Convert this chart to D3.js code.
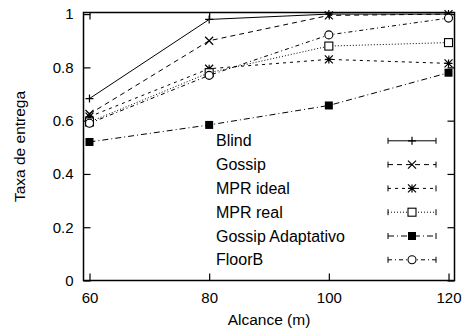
<!DOCTYPE html>
<html>
<head>
<meta charset="utf-8">
<script src="https://cdn.jsdelivr.net/npm/d3@7/dist/d3.min.js"></script>
<style>
  body { margin: 0; background: #fff; }
  svg { display: block; }
  text { font-family: "Liberation Sans", Arial, sans-serif; fill: #000; }
</style>
</head>
<body>
<svg id="chart" width="463" height="331"></svg>
<script>
// Delivery rate vs. range for each broadcast protocol
const ranges = [60, 80, 100, 120];
const seriesNames = ["Blind", "Gossip", "MPR ideal", "MPR real", "Gossip Adaptativo", "FloorB"];
const blind = [0.683, 0.98, 1.0, 1.0];
const gossip = [0.625, 0.90, 0.995, 1.0];
const mprIdeal = [0.615, 0.795, 0.83, 0.815];
const mprReal = [0.595, 0.78, 0.88, 0.893];
const gossipAdapt = [0.52, 0.584, 0.657, 0.78];
const floorB = [0.59, 0.77, 0.922, 0.985];
const yTicks = [0, 0.2, 0.4, 0.6, 0.8, 1];
const xTicks = [60, 80, 100, 120];

const seriesValues = [blind, gossip, mprIdeal, mprReal, gossipAdapt, floorB];
const styles = [
  { dash: null, mark: "plus" },
  { dash: "5,4", mark: "cross" },
  { dash: "3,4", mark: "star" },
  { dash: "1,2", mark: "box" },
  { dash: "6,3,1,3", mark: "fbox" },
  { dash: "4,3,1,3", mark: "circle" }
];

const svg = d3.select("#chart");
const pLeft = 83.5, pRight = 454.5, pTop = 12.5, pBottom = 280.5;

const x = d3.scaleLinear().domain([59, 121]).range([pLeft, pRight]);
const y = d3.scaleLinear().domain([0, 1.006]).range([pBottom, pTop]);

function drawMark(g, kind, cx, cy) {
  const s = 4;
  if (kind === "plus") {
    g.append("path").attr("d", `M${cx - s},${cy}H${cx + s}M${cx},${cy - s}V${cy + s}`)
      .attr("stroke", "#000").attr("stroke-width", 1.2);
  } else if (kind === "cross") {
    g.append("path").attr("d", `M${cx - s},${cy - s}L${cx + s},${cy + s}M${cx - s},${cy + s}L${cx + s},${cy - s}`)
      .attr("stroke", "#000").attr("stroke-width", 1.2);
  } else if (kind === "star") {
    g.append("path").attr("d", `M${cx - s},${cy}H${cx + s}M${cx},${cy - s}V${cy + s}M${cx - s},${cy - s}L${cx + s},${cy + s}M${cx - s},${cy + s}L${cx + s},${cy - s}`)
      .attr("stroke", "#000").attr("stroke-width", 1.2);
  } else if (kind === "box") {
    g.append("rect").attr("x", cx - s).attr("y", cy - s).attr("width", 2 * s).attr("height", 2 * s)
      .attr("fill", "#fff").attr("stroke", "#000").attr("stroke-width", 1.1);
  } else if (kind === "fbox") {
    g.append("rect").attr("x", cx - s).attr("y", cy - s).attr("width", 2 * s).attr("height", 2 * s)
      .attr("fill", "#000");
  } else if (kind === "circle") {
    g.append("circle").attr("cx", cx).attr("cy", cy).attr("r", s)
      .attr("fill", "#fff").attr("stroke", "#000").attr("stroke-width", 1.1);
  }
}

// axes: inward ticks, mirrored on the opposite side
const yAxisL = d3.axisLeft(y).tickValues(yTicks).tickSize(-7).tickPadding(10)
  .tickFormat(d => d === 0 || d === 1 ? d3.format("d")(d) : d3.format(".1f")(d));
const yAxisR = d3.axisRight(y).tickValues(yTicks).tickSize(-7).tickFormat("");
const xAxisB = d3.axisBottom(x).tickValues(xTicks).tickSize(-7).tickPadding(12).tickFormat(d3.format("d"));
const xAxisT = d3.axisTop(x).tickValues(xTicks).tickSize(-7).tickFormat("");

function styleAxis(g) {
  g.select(".domain").remove();
  g.selectAll(".tick line").attr("stroke", "#000").attr("stroke-width", 1.2);
  g.selectAll(".tick text").attr("font-size", 15).attr("font-family", "Liberation Sans, Arial, sans-serif");
}

svg.append("g").attr("transform", `translate(${pLeft},0)`).call(yAxisL).call(styleAxis);
svg.append("g").attr("transform", `translate(${pRight},0)`).call(yAxisR).call(styleAxis);
svg.append("g").attr("transform", `translate(0,${pBottom})`).call(xAxisB).call(styleAxis);
svg.append("g").attr("transform", `translate(0,${pTop})`).call(xAxisT).call(styleAxis);

// series
const line = d3.line().x(d => x(d[0])).y(d => y(d[1]));
const plot = svg.append("g");
seriesValues.forEach((vals, i) => {
  const pts = ranges.map((r, j) => [r, vals[j]]);
  plot.append("path").datum(pts).attr("d", line)
    .attr("fill", "none").attr("stroke", "#000").attr("stroke-width", 1)
    .attr("stroke-dasharray", styles[i].dash);
  pts.forEach(p => drawMark(plot, styles[i].mark, x(p[0]), y(p[1])));
});

// legend
const legend = svg.append("g");
const lx0 = 388, lx1 = 436, ly0 = 140.8, lstep = 23.8;
seriesNames.forEach((name, i) => {
  const ly = ly0 + i * lstep;
  legend.append("text").attr("x", 216).attr("y", ly + 5.5)
    .attr("font-size", 16).text(name);
  legend.append("line").attr("x1", lx0).attr("x2", lx1).attr("y1", ly).attr("y2", ly)
    .attr("stroke", "#000").attr("stroke-width", 1).attr("stroke-dasharray", styles[i].dash);
  legend.append("path").attr("d", `M${lx0},${ly - 3}V${ly + 3}M${lx1},${ly - 3}V${ly + 3}`)
    .attr("stroke", "#000").attr("stroke-width", 1);
  drawMark(legend, styles[i].mark, (lx0 + lx1) / 2, ly);
});

// frame
svg.append("rect").attr("x", pLeft).attr("y", pTop).attr("width", pRight - pLeft).attr("height", pBottom - pTop)
  .attr("fill", "none").attr("stroke", "#000").attr("stroke-width", 1.5);

// axis titles
svg.append("text").attr("x", (pLeft + pRight) / 2).attr("y", 325).attr("text-anchor", "middle")
  .attr("font-size", 15.5).text("Alcance (m)");
svg.append("text").attr("transform", `translate(24.5,${(pTop + pBottom) / 2}) rotate(-90)`)
  .attr("text-anchor", "middle").attr("font-size", 15.5).text("Taxa de entrega");
</script>
</body>
</html>
